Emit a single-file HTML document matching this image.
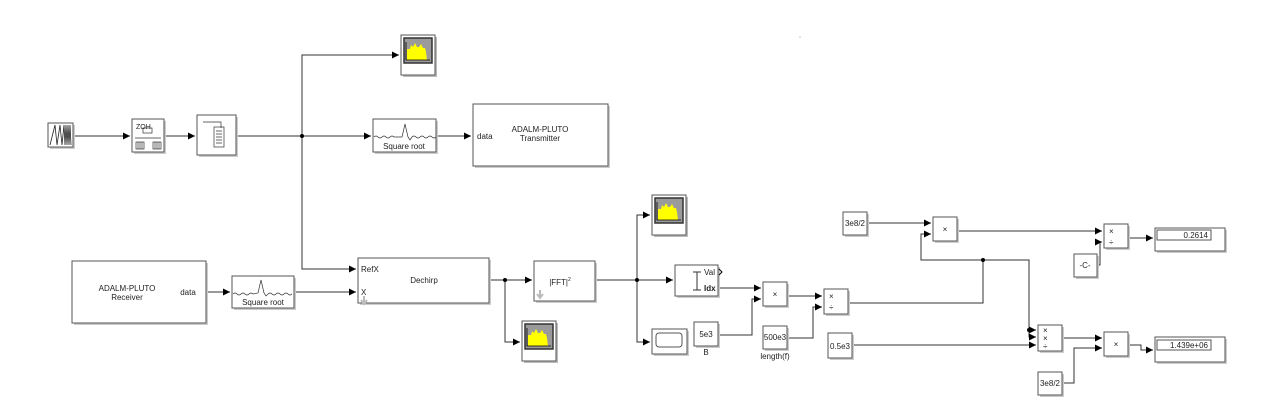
<!DOCTYPE html>
<html><head><meta charset="utf-8"><style>
html,body{margin:0;padding:0;background:#fff;}
svg{display:block;font-family:"Liberation Sans",sans-serif;}
</style></head><body>
<svg width="1267" height="411" viewBox="0 0 1267 411" xmlns="http://www.w3.org/2000/svg">
<defs>
<marker id="a" markerWidth="8" markerHeight="8" refX="7" refY="4" orient="auto" markerUnits="userSpaceOnUse">
<path d="M0,0.5 L7,4 L0,7.5 z" fill="#000"/></marker>
<g id="scope">
<rect x="2" y="2" width="34" height="40" fill="#bbb"/>
<rect x="0" y="0" width="34" height="40" fill="#fff" stroke="#555" stroke-width="1"/>
<rect x="3" y="3" width="28" height="25" fill="#9a9a9a" stroke="#333" stroke-width="1.5"/>
<path d="M6,25 L6,14 L9,14 L10,10 L12,12 L14,8 L16,12 L18,12 L20,9 L22,13 L24,13 L25,17 L26,25 z" fill="#ffff00"/>
<path d="M5,7 L5,25 L29,25" stroke="#000" stroke-width="0.8" fill="none"/>
</g>
</defs>
<g fill="none" stroke="#333" stroke-width="1">
<!-- top row -->
<path d="M73,136 H130" marker-end="url(#a)"/>
<path d="M164,136 H195" marker-end="url(#a)"/>
<path d="M236,136 H371" marker-end="url(#a)"/>
<path d="M302,136 V55 H399" marker-end="url(#a)"/>
<path d="M302,136 V269 H356" marker-end="url(#a)"/>
<path d="M436,136 H471" marker-end="url(#a)"/>
<!-- bottom row -->
<path d="M206,292 H230" marker-end="url(#a)"/>
<path d="M294,292 H356" marker-end="url(#a)"/>
<path d="M489,280 H532" marker-end="url(#a)"/>
<path d="M505,280 V342 H520" marker-end="url(#a)"/>
<path d="M595,280 H673" marker-end="url(#a)"/>
<path d="M637,280 V215 H650" marker-end="url(#a)"/>
<path d="M637,280 V342 H650" marker-end="url(#a)"/>
<path d="M718,288 H761" marker-end="url(#a)"/>
<path d="M718,335 H752 V299 H761" marker-end="url(#a)"/>
<path d="M787,296 H822" marker-end="url(#a)"/>
<path d="M787,338 H813 V307 H822" marker-end="url(#a)"/>
<path d="M848,303 H983 V260"/>
<path d="M867,223 H931" marker-end="url(#a)"/>
<path d="M983,260 H921 V234 H931" marker-end="url(#a)"/>
<path d="M983,260 H1029 V330 H1036" marker-end="url(#a)"/>
<path d="M1029,330 V337 H1036" marker-end="url(#a)"/>
<path d="M852,345 H1036" marker-end="url(#a)"/>
<path d="M957,231 H1102" marker-end="url(#a)"/>
<path d="M1097,265 H1100 V242 H1102" marker-end="url(#a)"/>
<path d="M1128,238 H1153" marker-end="url(#a)"/>
<path d="M1062,338 H1102" marker-end="url(#a)"/>
<path d="M1062,383 H1074 V348 H1102" marker-end="url(#a)"/>
<path d="M1128,345 H1141 V350 H1153" marker-end="url(#a)"/>
</g>
<g fill="#000">
<circle cx="302" cy="136" r="2"/><circle cx="505" cy="280" r="2"/><circle cx="637" cy="280" r="2"/>
<circle cx="983" cy="260" r="2"/><circle cx="1029" cy="330" r="2"/>
</g>
<!-- blocks with shadow -->
<g stroke="#555" stroke-width="1" fill="#fff">
<g id="blk">
</g>
</g>
<g fill="#ccc">
<rect x="50" y="125" width="25" height="24"/><rect x="134" y="121" width="32" height="33"/><rect x="199" y="117" width="39" height="40"/>
<rect x="375" y="121" width="63" height="33"/><rect x="475" y="106" width="135" height="62"/>
<rect x="74" y="263" width="134" height="62"/><rect x="234" y="278" width="62" height="32"/><rect x="360" y="260" width="131" height="45"/>
<rect x="536" y="263" width="61" height="40"/><rect x="677" y="267" width="43" height="31"/><rect x="654" y="331" width="35" height="25"/>
<rect x="765" y="284" width="24" height="24"/><rect x="696" y="324" width="24" height="24"/><rect x="765" y="328" width="24" height="23"/>
<rect x="826" y="291" width="24" height="25"/><rect x="845" y="214" width="24" height="23"/><rect x="830" y="335" width="24" height="25"/>
<rect x="935" y="219" width="24" height="24"/><rect x="1106" y="226" width="24" height="24"/><rect x="1076" y="256" width="23" height="23"/>
<rect x="1157" y="230" width="70" height="23"/><rect x="1040" y="327" width="24" height="26"/><rect x="1106" y="334" width="24" height="24"/>
<rect x="1157" y="339" width="70" height="25"/><rect x="1040" y="374" width="24" height="23"/>
</g>
<g stroke="#555" stroke-width="1" fill="#fff">
<rect x="48" y="123" width="25" height="24"/><rect x="132" y="119" width="32" height="33"/><rect x="197" y="115" width="39" height="40"/>
<rect x="373" y="119" width="63" height="33"/><rect x="473" y="104" width="135" height="62"/>
<rect x="72" y="261" width="134" height="62"/><rect x="232" y="276" width="62" height="32"/><rect x="358" y="258" width="131" height="45"/>
<rect x="534" y="261" width="61" height="40"/><rect x="675" y="265" width="43" height="31"/><rect x="652" y="329" width="35" height="25"/>
<rect x="763" y="282" width="24" height="24"/><rect x="694" y="322" width="24" height="24"/><rect x="763" y="326" width="24" height="23"/>
<rect x="824" y="289" width="24" height="25"/><rect x="843" y="212" width="24" height="23"/><rect x="828" y="333" width="24" height="25"/>
<rect x="933" y="217" width="24" height="24"/><rect x="1104" y="224" width="24" height="24"/><rect x="1074" y="254" width="23" height="23"/>
<rect x="1155" y="228" width="70" height="23"/><rect x="1038" y="325" width="24" height="26"/><rect x="1104" y="332" width="24" height="24"/>
<rect x="1155" y="337" width="70" height="25"/><rect x="1038" y="372" width="24" height="23"/>
<rect x="1157" y="230" width="54" height="10"/><rect x="1157" y="340" width="54" height="10"/>
<rect x="656" y="333" width="26" height="14" rx="3"/>
</g>
<use href="#scope" x="401" y="35"/>
<use href="#scope" x="652" y="195"/>
<use href="#scope" x="522" y="321"/>
<!-- chirp icon -->
<path d="M50,145 L55,125 L57,145 L60,125 L62,145 L64,125 L65,145 L66,125 L67,145 L68,125 L69,145 L70,125 L71,145" stroke="#222" stroke-width="0.8" fill="none"/>
<!-- ZOH icon -->
<g stroke="#333" stroke-width="0.7" fill="none">
<rect x="143" y="128" width="9" height="5"/><path d="M135,138 H161"/><rect x="136" y="142" width="8" height="7"/><rect x="153" y="142" width="8" height="7"/>
<path d="M138,142 V149 M140,142 V149 M142,142 V149 M155,142 V149 M157,142 V149 M159,142 V149"/>
<!-- buffer -->
<path d="M203,122 H221 V128"/><rect x="214" y="127" width="10" height="20"/>
<path d="M216,131 H222 M216,134 H222 M216,137 H222 M216,140 H222 M216,143 H222"/>
<!-- sqrt pulses -->
<path d="M374,137 q2,-2 4,0 t4,0 t4,0 t4,0 t4,0 L402,137 L405,124 L408,137 L410,140 L412,137 q2,-2 4,0 t4,0 t4,0 t4,0 t4,0 t4,0"/>
<path d="M233,294 q2,-2 4,0 t4,0 t4,0 t4,0 t4,0 L258,293 L261,280 L264,293 L266,296 L268,294 q2,-2 4,0 t4,0 t4,0 t4,0 t4,0 t4,0"/>
<!-- max icon -->
<path d="M693,272 H701 M697,272 V290 M693,290 H701" stroke-width="1"/>
</g>
<path d="M719,269 L722,272 L719,275" stroke="#000" fill="none"/>
<g font-size="8" fill="#222" text-anchor="middle">
<text x="136" y="129" font-size="7" text-anchor="start">ZOH</text>
<text x="404" y="149">Square root</text>
<text x="263" y="305">Square root</text>
<text x="540" y="132">ADALM-PLUTO</text>
<text x="540" y="141">Transmitter</text>
<text x="477" y="139" text-anchor="start">data</text>
<text x="127" y="291">ADALM-PLUTO</text>
<text x="127" y="300">Receiver</text>
<text x="188" y="295">data</text>
<text x="361" y="272" text-anchor="start">RefX</text>
<text x="361" y="295" text-anchor="start">X</text>
<text x="424" y="283">Dechirp</text>
<text x="560" y="285">|FFT|<tspan font-size="5" dy="-4">2</tspan></text>
<text x="704" y="275" text-anchor="start">Val</text>
<text x="704" y="291" text-anchor="start" font-weight="bold">Idx</text>
<text x="775" y="297">×</text>
<text x="706" y="337">5e3</text>
<text x="706" y="355">B</text>
<text x="775" y="340">500e3</text>
<text x="775" y="359">length(f)</text>
<text x="829" y="299" text-anchor="start">×</text>
<text x="829" y="310" text-anchor="start">÷</text>
<text x="855" y="226">3e8/2</text>
<text x="840" y="349">0.5e3</text>
<text x="945" y="232">×</text>
<text x="1109" y="234" text-anchor="start">×</text>
<text x="1109" y="245" text-anchor="start">÷</text>
<text x="1085" y="268">-C-</text>
<text x="1208" y="238" text-anchor="end">0.2614</text>
<text x="1043" y="333" text-anchor="start">×</text>
<text x="1043" y="341" text-anchor="start">×</text>
<text x="1043" y="349" text-anchor="start">÷</text>
<text x="1116" y="347">×</text>
<text x="1208" y="348" text-anchor="end">1.439e+06</text>
<text x="1050" y="386">3e8/2</text>
</g>
<path d="M364,296 V303 M361,300 L364,304 L367,300" stroke="#bbb" stroke-width="2" fill="none"/>
<path d="M540,290 V297 M537,294 L540,298 L543,294" stroke="#bbb" stroke-width="2" fill="none"/>
<circle cx="800" cy="37" r="0.6" fill="#999"/>
</svg>
</body></html>
